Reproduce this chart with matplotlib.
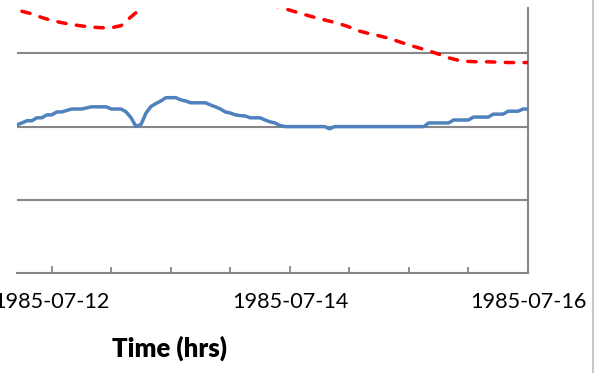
import matplotlib
matplotlib.use("Agg")
import matplotlib.pyplot as plt
import matplotlib.dates as mdates
from matplotlib.lines import Line2D
import pandas as pd

# Hourly series (blue) and two-hourly series (red dashed)
blue_start, blue_end = "1985-07-11 17:00", "1985-07-16 00:00"
blue_values = [
    40.5, 41.0, 41.6, 41.6, 42.4, 42.4, 43.2, 43.2,          # 07-11 17:00 .. 07-12 00:00
    44.0, 44.0, 44.4, 44.8, 44.8, 44.8, 45.1, 45.4,
    45.4, 45.4, 45.4, 44.8, 44.8, 44.8, 44.0, 42.4,
    40.0, 40.6, 43.7, 45.5, 46.3, 47.0, 47.9, 47.9,          # 07-12 17:00 ..
    47.9, 47.3, 47.0, 46.5, 46.5, 46.5, 46.5, 45.9,
    45.4, 44.8, 44.0, 43.7, 43.2, 43.0, 42.9, 42.4,
    42.4, 42.4, 41.8, 41.3, 41.0, 40.3, 40.0, 40.0,          # 07-13 17:00 ..
    40.0, 40.0, 40.0, 40.0, 40.0, 40.0, 40.0, 39.4,
    40.0, 40.0, 40.0, 40.0, 40.0, 40.0, 40.0, 40.0,
    40.0, 40.0, 40.0, 40.0, 40.0, 40.0, 40.0, 40.0,          # 07-14 17:00 ..
    40.0, 40.0, 40.0, 41.0, 41.0, 41.0, 41.0, 41.0,
    41.8, 41.8, 41.8, 41.8, 42.6, 42.6, 42.6, 42.6,
    43.4, 43.4, 43.4, 44.2, 44.2, 44.2, 44.8, 44.8,          # 07-15 17:00 .. 07-16 00:00
]

red_start, red_end = "1985-07-11 18:00", "1985-07-16 00:00"
red_values = [
    71.5, 70.8, 69.8, 69.0, 68.4, 67.9, 67.5, 67.2, 67.0, 67.0,
    67.6, 70.0, 72.3, 74.3, 75.8, 76.8, 77.4, 77.7, 77.7, 77.4,
    77.0, 76.4, 75.7, 75.0, 74.2, 73.4, 72.6, 71.8, 71.0, 70.2,
    69.5, 68.8, 68.1, 67.2, 66.1, 65.4, 64.8, 64.1, 63.2, 62.3,
    61.5, 60.7, 59.8, 58.8, 58.1, 57.8, 57.7, 57.7, 57.6, 57.5,
    57.5, 57.5,
]

tick_labels = ["1985-07-12", "1985-07-14", "1985-07-16"]
grid_values = [20, 40, 60]
y_max = 72.4

blue_time = pd.date_range(blue_start, blue_end, freq="h")
red_time = pd.date_range(red_start, red_end, freq="2h")

W, H = 595, 373
fig = plt.figure(figsize=(W / 100, H / 100), dpi=100)
ax = fig.add_axes([17 / W, (H - 273) / H, 511 / W, 265 / H])

grey = "#878787"
for g in grid_values:
    ax.axhline(g, color=grey, lw=1.5, zorder=1)

ax.plot(blue_time, blue_values, color="#4F81BD", lw=2.5, zorder=3,
        solid_joinstyle="round", solid_capstyle="round")
ax.plot(red_time, red_values, color="#FF0000", lw=2.5, zorder=3,
        dashes=(2.4, 3.0), dash_capstyle="round")

ax.set_xlim(pd.Timestamp(blue_start), pd.Timestamp(blue_end))
ax.set_ylim(0, y_max)

ax.set_xticks(pd.to_datetime(tick_labels))
ax.set_xticklabels(tick_labels, fontfamily="Lato", fontsize=15.6, color="#000000")
ax.xaxis.set_minor_locator(mdates.HourLocator(byhour=[0, 12]))
ax.tick_params(axis="x", which="major", direction="in", length=5.2, width=1.3,
               color=grey, pad=13.5)
ax.tick_params(axis="x", which="minor", direction="in", length=4.2, width=1.3,
               color=grey)
ax.set_yticks([])

for side in ("left", "top"):
    ax.spines[side].set_visible(False)
for side in ("bottom", "right"):
    ax.spines[side].set_color(grey)
    ax.spines[side].set_linewidth(1.5)

fig.text(170 / W, (H - 357) / H, "Time (hrs)", ha="center", va="baseline",
         fontfamily="Lato", fontweight="heavy", fontsize=18.5)

# Thin frame line at the right edge of the chart area
fig.add_artist(Line2D([593 / W, 593 / W], [0, 1], color="#BDBDBD", lw=1.2))

fig.savefig("out.png", dpi=100)
